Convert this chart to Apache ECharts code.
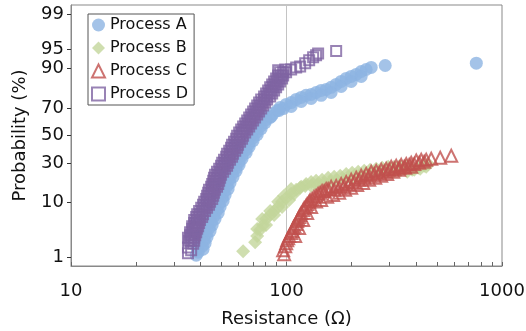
<!DOCTYPE html>
<html>
<head>
<meta charset="utf-8">
<script src="https://cdn.jsdelivr.net/npm/echarts@6/dist/echarts.min.js"></script>
<style>html,body{margin:0;padding:0;background:#fff}#main{width:526px;height:331px}</style>
</head>
<body>
<div id="main"></div>
<script>
var chartDom = document.getElementById('main');
var myChart = echarts.init(chartDom);
var option;

// resistance (ohm) / cumulative probability (%)
let resA = [38.1,38.9,38.5,40.6,39.3,41.5,40.2,42.4,41.5,43.7,42.4,44.7,43.7,46.1,45.2,47.6,46.1,48.7,47.6,50.3,
  48.7,51.3,50.3,53.0,51.3,54.2,53.0,55.9,54.7,58.4,56.5,60.3,58.4,62.2,60.9,65.0,62.9,67.1,65.7,70.0,
  68.5,73.1,71.5,76.3,74.6,80.4,84.0,79.6,86.7,90.5,96.5,93.4,99.6,105.1,110.9,117.0,123.3,130.1,137.2,144.8,
  152.8,161.1,170.0,179.3,189.2,199.6,210.6,222.1,234.2,247.2,287.1,760,
  41.0,41.9,42.8,44.2,45.2,46.6,48.2,49.2,50.8,51.9,53.6,54.7,56.5,58.4,60.3,62.2,65.0,67.1,70.0,73.1,
  76.3,79.6,84.9,92.4,105.1,117.0,130.1,144.8,161.1,179.3,199.6,222.1]
let probA = [1.09,1.27,1.47,1.70,1.96,2.25,2.58,2.95,3.35,3.81,4.31,4.87,5.48,6.14,6.88,7.68,8.55,9.48,10.5,11.6,
  12.7,14.0,15.3,16.7,18.2,19.8,21.4,23.1,24.9,26.8,28.7,30.7,32.8,34.9,37.1,39.3,41.5,43.8,46.1,48.4,
  50.6,52.9,55.3,57.5,59.8,62.0,63.5,64.2,66.3,68.4,69.7,70.4,72.4,73.6,75.5,76.7,77.9,78.4,79.5,80.6,
  81.1,82.2,83.6,85.0,86.3,87.1,87.9,89.0,89.7,90.4,91.0,91.7,
  1.47,1.96,2.58,3.35,4.31,5.48,6.88,8.55,10.5,12.7,15.3,18.2,21.4,24.9,28.7,32.8,37.1,41.5,46.1,50.6,
  55.3,59.8,64.2,68.4,71.1,74.3,76.1,77.9,79.5,82.6,85.0,87.1]

let resB = [62.9,71.5,73.1,75.4,77.9,80.4,84.0,87.6,91.5,95.4,99.6,105.1,110.9,117.0,123.3,130.1,137.2,146.3,
  156.1,166.4,177.5,189.2,201.7,215.1,229.3,244.5,260.7,278.0,296.4,316.1,337.0,359.4,383.1,408.5,435.6,454.6,
  73.1,80.4,77.1,87.6,84.0,95.4,91.5,102.9,97.5,108.6,105.1,115.7,122.1,130.1,138.7,147.9,159.4,171.8,
  185.2,199.6,215.1,231.7,249.8,269.2,290.1,312.7,337.0,363.3,391.5,417.3,444.9]
let probB = [1.33,2.05,2.70,3.50,4.31,5.48,6.39,7.41,8.54,10.2,11.6,13.2,14.9,16.3,17.7,18.7,19.3,19.8,
  20.9,21.4,22.0,23.1,23.7,24.4,24.9,25.6,26.2,26.8,27.5,27.5,28.1,28.1,25.6,26.8,28.1,29.3,
  3.66,4.31,5.48,6.39,7.41,8.54,10.2,10.8,12.4,13.2,15.3,15.8,16.7,16.7,17.2,17.7,18.7,19.3,
  19.8,20.3,21.4,22.0,22.6,23.1,24.4,24.4,24.9,24.4,25.6,26.2,27.5]

let resC = [97.5,98.6,100.7,102.9,106.3,108.6,112.0,114.4,117.0,120.8,124.7,128.7,134.3,140.2,146.3,152.8,161.1,
  170.0,179.3,189.2,199.6,210.6,222.1,234.2,247.2,260.7,275.1,290.1,306.1,322.9,340.7,359.4,379.1,399.9,421.8,
  444.9,469.4,516.8,581.4,
  109.7,114.4,119.5,124.7,130.1,137.2,144.8,154.4,164.6,175.6,187.2,199.6,212.8,226.9,241.9,258.0,275.1,293.2,
  312.7,333.5,355.5,379.1,
  96.5,99.6,101.8,105.1,107.4,110.9,113.2,115.7,119.5,123.3,127.4,131.5,137.2,143.3,149.5,156.1,166.4,175.6,
  185.2,195.4,206.1,217.4,229.3,241.9,255.2,269.2,284.0,299.6,316.1,333.5,351.8,371.1,391.5,412.9,435.6]
let probC = [1.15,1.70,2.25,2.70,3.35,4.14,5.06,5.92,6.88,8.26,9.48,10.8,12.0,13.2,14.4,15.3,16.3,
  16.7,17.7,18.7,19.8,20.9,22.0,23.1,24.4,24.9,25.6,26.2,27.5,28.1,28.7,29.3,30.1,31.6,32.1,
  32.1,32.8,33.5,34.9,
  2.70,3.81,5.27,6.88,8.54,10.3,10.8,12.0,12.7,13.6,14.9,15.8,17.2,18.2,19.8,20.9,22.0,23.1,
  24.4,25.6,26.8,27.5,
  1.40,1.96,2.46,3.08,3.81,4.49,5.48,6.39,7.68,8.95,10.2,11.2,12.4,13.6,14.4,15.3,14.9,15.8,
  16.7,17.7,18.7,19.8,20.9,22.0,23.1,23.7,24.4,25.6,26.2,26.8,27.5,28.7,29.3,30.1,30.7]

let resD = [34.9,36.1,34.9,36.9,35.3,37.3,35.7,38.1,36.5,38.9,37.3,39.7,38.1,41.0,39.3,42.8,41.0,44.2,42.4,45.7,
  43.3,46.6,44.7,48.2,45.7,49.2,46.6,50.8,48.7,53.0,50.3,54.7,52.5,56.5,54.2,59.0,55.9,60.9,58.4,62.9,
  60.3,65.7,62.9,68.5,65.7,71.5,68.5,74.6,71.5,77.9,74.6,81.3,78.7,85.8,82.2,89.5,85.8,93.4,89.5,96.5,
  93.4,98.6,91.5,105.1,110.9,115.7,122.1,127.4,132.9,137.2,140.2,170.0,
  36.1,36.1,36.5,36.9,37.3,37.7,38.1,38.5,39.3,39.7,40.6,41.5,42.4,42.8,43.7,44.2,44.7,45.2,46.1,46.6,
  47.1,47.6,48.2,49.2,50.3,51.3,51.9,53.0,54.2,54.7,55.9,57.2,57.8,59.0,60.3,60.9,62.2,63.6,65.0,66.4,
  67.8,69.3,70.8,72.3,73.9,75.4,77.1,78.7,81.3,83.1,84.9,86.7,88.6,90.5,92.4,94.5,96.5,
  37.3,34.9,37.7,35.7,38.5,36.5,39.3,37.3,40.6,38.5,41.9,40.2,43.7,41.5,45.2,42.8,46.1,43.7,47.6,45.2,
  48.7,46.1,49.7,47.6,51.9,49.7,53.6,51.3,55.9,53.0,57.8,55.3,59.6,57.1,62.2,59.0,64.3,61.6,67.1,64.3,
  70.0,67.1,73.1,70.0,76.3,73.1,79.6,76.3,84.0,80.4,87.6,84.0,91.5,87.6,95.4,91.5,99.6]
let probD = [1.2,1.4,1.6,1.9,2.2,2.5,2.8,3.2,3.7,4.1,4.7,5.3,5.9,6.6,7.4,8.3,9.2,10.2,11.2,12.4,
  13.6,14.9,16.3,17.7,19.3,20.9,22.6,24.4,26.2,28.1,30.1,32.1,34.2,36.4,38.6,40.8,43.0,45.3,47.6,49.9,
  52.2,54.5,56.8,59.0,61.3,63.5,65.6,67.7,69.7,71.7,73.6,75.5,77.3,79.0,80.6,82.2,83.6,85.0,86.3,87.5,
  88.7,89.7,89.4,89.7,90.4,90.7,91.7,92.5,93.3,93.8,94.2,94.7,
  2.2,2.5,2.8,3.2,3.7,4.1,4.7,5.3,5.9,6.6,7.4,8.3,9.2,10.2,11.2,12.4,13.6,14.9,16.3,17.7,
  19.3,20.9,22.6,24.4,26.2,28.1,30.1,32.1,34.2,36.4,38.6,40.8,43.0,45.3,47.6,49.9,52.2,54.5,56.8,59.0,
  61.3,63.5,65.6,67.7,69.7,71.7,73.6,75.5,77.3,79.0,80.6,82.2,83.6,85.0,86.3,87.5,88.7,
  2.2,2.5,2.8,3.2,3.7,4.1,4.7,5.3,5.9,6.6,7.4,8.3,9.2,10.2,11.2,12.4,13.6,14.9,16.3,17.7,
  19.3,20.9,22.6,24.4,26.2,28.1,30.1,32.1,34.2,36.4,38.6,40.8,43.0,45.3,47.6,49.9,52.2,54.5,56.8,59.0,
  61.3,63.5,65.6,67.7,69.7,71.7,73.6,75.5,77.3,79.0,80.6,82.2,83.6,85.0,86.3,87.5,88.7]

let xTicks = [10,20,30,40,50,60,70,80,90,100,200,300,400,500,600,700,800,900,1000]
let xLabels = [10,100,1000]
let yLabels = [1,10,30,50,70,90,95,99]

let font = 'DejaVu Sans'

// inverse of the normal cdf (Acklam), for the probability axis
function probit(p) {
  let a = [-39.69683028665376, 220.9460984245205, -275.9285104469687, 138.3577518672690, -30.66479806614716, 2.506628277459239]
  let b = [-54.47609879822406, 161.5858368580409, -155.6989798598866, 66.80131188771972, -13.28068155288572]
  let c = [-0.007784894002430293, -0.3223964580411365, -2.400758277161838, -2.549732539343734, 4.374664141464968, 2.938163982698783]
  let d = [0.007784695709041462, 0.3224671290700398, 2.445134137142996, 3.754408661907416]
  let lo = 0.02425
  let q, r
  if (p < lo) {
    q = Math.sqrt(-2 * Math.log(p))
    return (((((c[0]*q+c[1])*q+c[2])*q+c[3])*q+c[4])*q+c[5]) / ((((d[0]*q+d[1])*q+d[2])*q+d[3])*q+1)
  }
  if (p > 1 - lo) {
    q = Math.sqrt(-2 * Math.log(1 - p))
    return -(((((c[0]*q+c[1])*q+c[2])*q+c[3])*q+c[4])*q+c[5]) / ((((d[0]*q+d[1])*q+d[2])*q+d[3])*q+1)
  }
  q = p - 0.5
  r = q * q
  return (((((a[0]*r+a[1])*r+a[2])*r+a[3])*r+a[4])*r+a[5])*q / (((((b[0]*r+b[1])*r+b[2])*r+b[3])*r+b[4])*r+1)
}

function points(res, prob) {
  return res.map(function (v, i) { return [Math.log10(v), probit(prob[i] / 100)] })
}

let yVals = yLabels.map(function (p) { return probit(p / 100) })

option = {
  animation: false,
  grid: { left: 71, right: 24, top: 5, bottom: 65, show: true, borderColor: '#898989', borderWidth: 1, outerBoundsMode: 'none' },
  legend: {
    orient: 'vertical',
    left: 88,
    top: 14,
    padding: [3, 6, 3, 3],
    itemGap: 7,
    itemWidth: 13,
    itemHeight: 13,
    borderColor: '#555',
    borderWidth: 1,
    backgroundColor: '#fff',
    selectedMode: false,
    textStyle: { fontFamily: font, fontSize: 16, color: '#111', width: 78 },
    data: ['Process A', 'Process B', 'Process C', 'Process D']
  },
  xAxis: [
    {
      type: 'value',
      min: 1,
      max: 3,
      interval: 1,
      name: 'Resistance (Ω)',
      nameLocation: 'middle',
      nameGap: 44,
      nameTextStyle: { fontFamily: font, fontSize: 18, color: '#111' },
      axisLine: { onZero: false, lineStyle: { color: '#898989' } },
      axisTick: { inside: true, length: 4, customValues: xTicks.map(Math.log10), lineStyle: { color: '#666' } },
      axisLabel: {
        customValues: xLabels.map(Math.log10),
        margin: 16,
        fontFamily: font, fontSize: 18, color: '#111',
        formatter: function (v) { return String(Math.round(Math.pow(10, v))) }
      },
      splitLine: { show: false }
    },
    {
      // only carries the vertical grid line at 100
      type: 'value',
      min: 1,
      max: 3,
      interval: 1,
      position: 'bottom',
      axisLine: { show: false, onZero: false },
      axisTick: { show: false },
      axisLabel: { show: false },
      splitLine: { show: true, lineStyle: { color: '#c4c4c4', width: 1 } }
    }
  ],
  yAxis: {
    type: 'value',
    min: -2.5,
    max: 2.5,
    name: 'Probability (%)',
    nameLocation: 'middle',
    nameGap: 42,
    nameTextStyle: { fontFamily: font, fontSize: 18, color: '#111' },
    axisLine: { show: true, onZero: false, lineStyle: { color: '#898989' } },
    axisTick: { show: true, length: 4, customValues: yVals, lineStyle: { color: '#333' } },
    axisLabel: {
      customValues: yVals,
      margin: 7,
      fontFamily: font, fontSize: 18, color: '#111',
      formatter: function (v) {
        for (let i = 0; i < yVals.length; i++) {
          if (Math.abs(yVals[i] - v) < 1e-6) return String(yLabels[i])
        }
        return ''
      }
    },
    splitLine: { show: false }
  },
  series: [
    {
      name: 'Process A', type: 'scatter', symbol: 'circle', symbolSize: 13,
      itemStyle: { color: '#8DB4E2' },
      data: points(resA, probA)
    },
    {
      name: 'Process B', type: 'scatter', symbol: 'diamond', symbolSize: 14,
      itemStyle: { color: '#C3D69B' },
      data: points(resB, probB)
    },
    {
      name: 'Process C', type: 'scatter', symbol: 'triangle', symbolSize: 12,
      itemStyle: { color: 'rgba(255,255,255,0)', borderColor: '#C0504D', borderWidth: 2 },
      data: points(resC, probC)
    },
    {
      name: 'Process D', type: 'scatter', symbol: 'rect', symbolSize: 10,
      itemStyle: { color: 'rgba(255,255,255,0)', borderColor: '#8064A2', borderWidth: 2 },
      data: points(resD, probD)
    }
  ]
};

option && myChart.setOption(option);
</script>
</body>
</html>
